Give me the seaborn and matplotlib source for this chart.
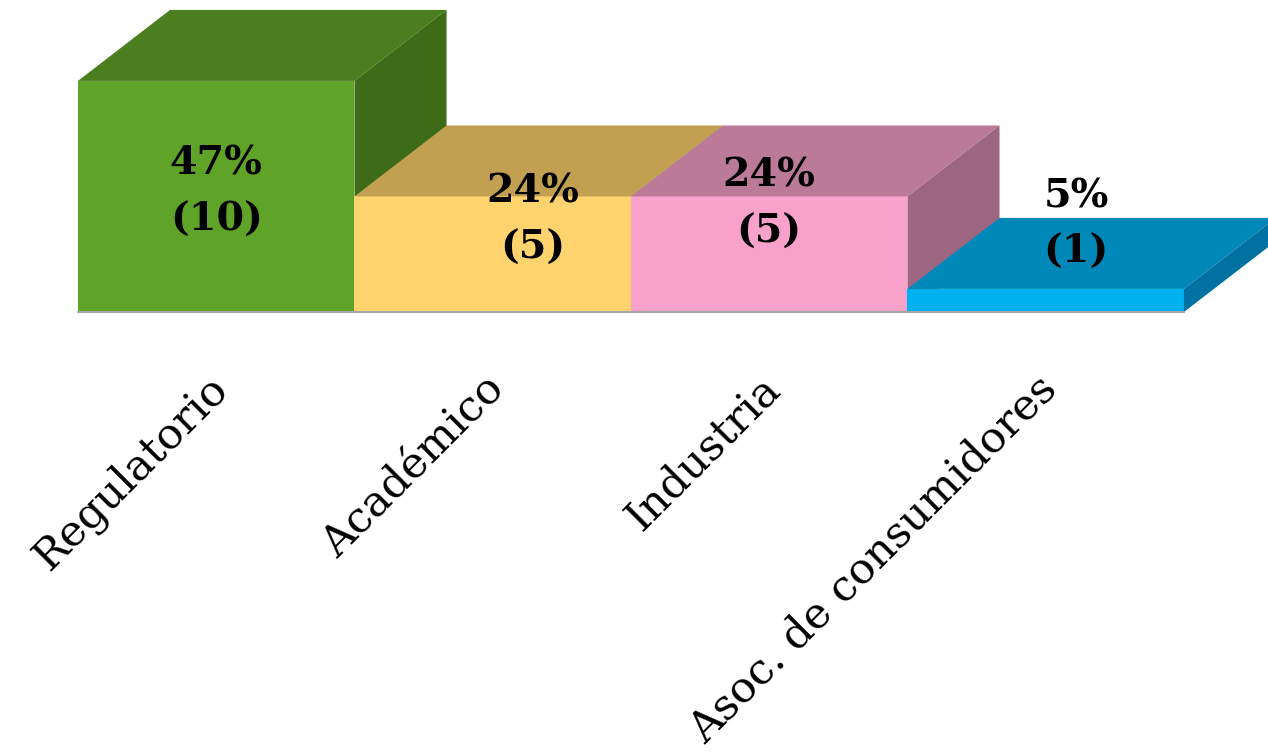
import matplotlib
matplotlib.use("Agg")
import matplotlib.pyplot as plt
import matplotlib.transforms as mtransforms
import seaborn as sns
from matplotlib.patches import Polygon

# Data
categories = ["Regulatorio", "Académico", "Industria", "Asoc. de consumidores"]
counts = [10, 5, 5, 1]
percents = [47, 24, 24, 5]

front_colors = ["#5FA328", "#FFD46E", "#F8A1CB", "#00B1EF"]
top_colors = ["#4A7E1F", "#C1A051", "#BC7A99", "#0088B9"]
side_colors = ["#3E6B18", "#A3863F", "#9C6680", "#0071A0"]

sns.set_theme(style="white")
plt.rcParams["font.family"] = ["DejaVu Serif"]
plt.rcParams["text.color"] = "black"
plt.rcParams["xtick.color"] = "black"

fig = plt.figure(figsize=(12.68, 7.56), dpi=100)
# axes bottom sits on the chart baseline
ax = fig.add_axes([0, 1 - 312 / 756, 1, 312 / 756])

sns.barplot(x=categories, y=counts, hue=categories, palette=front_colors,
            width=1, saturation=1, legend=False, ax=ax, linewidth=0)

ax.set_xlim(-0.782, 3.804)
ax.set_ylim(0, 13.5)

# depth of the fake 3D boxes, in data units
dx, dy = 0.333, 3.07

for i, bar in enumerate(ax.patches):
    x0 = bar.get_x()
    w = bar.get_width()
    h = bar.get_height()
    x1 = x0 + w
    z = 2 + 3 * i
    bar.set_zorder(z)
    top = Polygon([(x0, h), (x0 + dx, h + dy), (x1 + dx, h + dy), (x1, h)],
                  closed=True, facecolor=top_colors[i], edgecolor="none",
                  zorder=z + 1, clip_on=False)
    side = Polygon([(x1, 0), (x1, h), (x1 + dx, h + dy), (x1 + dx, dy)],
                   closed=True, facecolor=side_colors[i], edgecolor="none",
                   zorder=z + 1, clip_on=False)
    ax.add_patch(top)
    ax.add_patch(side)

# baseline
ax.plot([-0.5, 3.5], [0, 0], color="#A6A6A6", lw=1.5, zorder=20, clip_on=False)

# value labels
label_dx = [0.0, 0.145, 0.0, 0.11]
label_y = [5.2, 4.0, 4.7, 3.8]
for i, (p, c) in enumerate(zip(percents, counts)):
    ax.text(i + label_dx[i], label_y[i], f"{p}%\n({c})", ha="center", va="center",
            fontsize=28.5, fontweight="bold", linespacing=1.6, color="black",
            zorder=30)

ax.set_xticks(range(len(categories)))
ax.set_xticklabels(categories, rotation=45, ha="right", va="top",
                   rotation_mode="anchor", fontsize=31, color="black")
ax.tick_params(axis="x", length=0, pad=40)
shift = mtransforms.ScaledTranslation(-0.1, 0, fig.dpi_scale_trans)
for lab in ax.get_xticklabels():
    lab.set_transform(lab.get_transform() + shift)
ax.set_yticks([])
ax.set_xlabel("")
ax.set_ylabel("")
for s in ax.spines.values():
    s.set_visible(False)
ax.patch.set_alpha(0)

fig.savefig("out.png", dpi=100)
